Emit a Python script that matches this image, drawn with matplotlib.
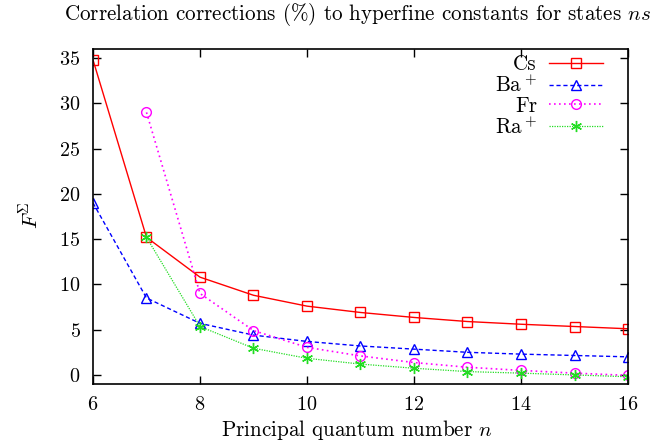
import numpy as np
import matplotlib.pyplot as plt

plt.rcParams['font.family'] = 'serif'
plt.rcParams['font.serif'] = ['cmr10', 'DejaVu Serif']
plt.rcParams['mathtext.fontset'] = 'cm'
plt.rcParams['axes.formatter.use_mathtext'] = True

n_all = [6, 7, 8, 9, 10, 11, 12, 13, 14, 15, 16]
n_7 = [7, 8, 9, 10, 11, 12, 13, 14, 15, 16]

cs = [34.8, 15.2, 10.8, 8.8, 7.6, 6.9, 6.35, 5.9, 5.6, 5.35, 5.1]
ba = [19.0, 8.5, 5.7, 4.4, 3.7, 3.2, 2.85, 2.5, 2.3, 2.15, 2.0]
fr = [29.0, 9.0, 4.9, 3.05, 2.1, 1.37, 0.85, 0.5, 0.2, -0.05]
ra = [15.2, 5.35, 2.95, 1.84, 1.2, 0.74, 0.37, 0.2, 0.0, -0.2]

fs = 15.2

fig = plt.figure(figsize=(6.58, 4.43), dpi=100)
ax = fig.add_axes([93/658, 1-384/443, (628-93)/658, (384-49)/443])

ax.plot(n_all, cs, color='red', ls='-', lw=1.0, marker='s', ms=7,
        mfc='none', mec='red', mew=1.0, label='Cs')
ax.plot(n_all, ba, color='blue', ls=(0, (3, 2)), lw=1.0, marker='^', ms=7,
        mfc='none', mec='blue', mew=1.0, label='Ba$^+$')
ax.plot(n_7, fr, color='magenta', ls=(0, (1, 2)), lw=1.2, marker='o', ms=7,
        mfc='none', mec='magenta', mew=1.0, label='Fr')
ax.plot(n_7, ra, color='#22dd22', ls=(0, (1, 1)), lw=0.9, marker=(6, 2, 0), ms=8,
        mec='#22dd22', mew=1.0, label='Ra$^+$')

ax.set_xlim(6, 16)
ax.set_ylim(-1, 36)
ax.set_xticks([6, 8, 10, 12, 14, 16])
ax.set_yticks([0, 5, 10, 15, 20, 25, 30, 35])
ax.tick_params(direction='in', top=True, right=True, length=6, width=1,
               labelsize=14.5, pad=9)
for s in ax.spines.values():
    s.set_linewidth(1.2)

fig.text(357/658, 1-430/443, 'Principal quantum number $n$', ha='center', va='center', fontsize=fs)
fig.text(30/658, 1-215/443, r'$F^\Sigma$', ha='center', va='center', rotation=90, fontsize=fs)
fig.text(357/658, 1-15/443, 'Correlation corrections (%) to hyperfine constants for states $ns$',
         ha='center', va='center', fontsize=fs)

ax.legend(loc='upper right', bbox_to_anchor=(0.953, 0.983), frameon=False,
          markerfirst=False, fontsize=fs, handlelength=2.55, labelspacing=0.0,
          borderaxespad=0, borderpad=0, handletextpad=0.57)

fig.savefig('out.png', dpi=100)
